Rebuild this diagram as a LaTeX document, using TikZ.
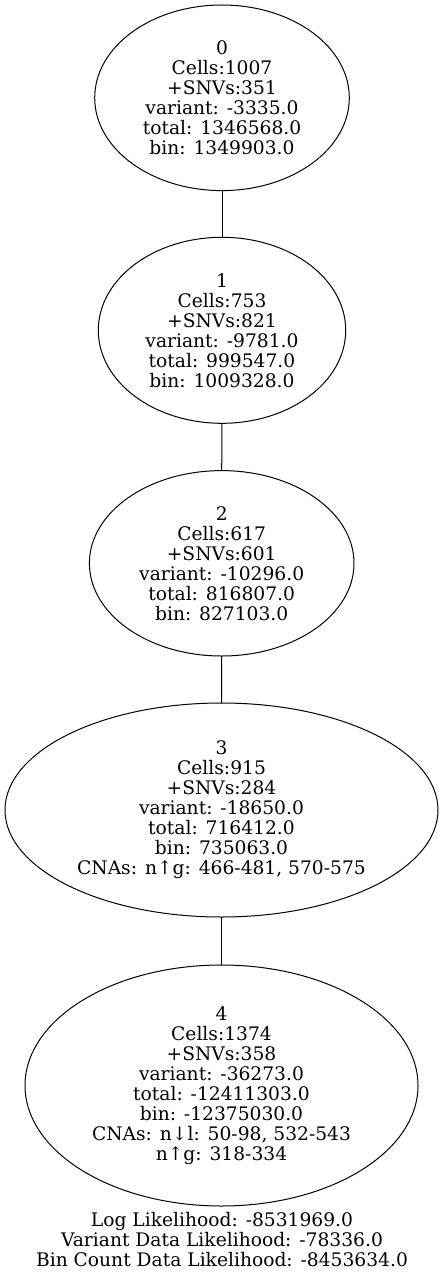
\documentclass[tikz,border=0pt]{standalone}
\usepackage{fontspec}
\setmainfont{DejaVu Serif}
\usetikzlibrary{shapes}

\begin{document}
\begin{tikzpicture}[
			x=0.75pt, y=-0.75pt,
			clone/.style={ellipse,draw,line width=0.75pt,inner sep=0pt,outer sep=0pt,
				align=center,font=\fontsize{14}{15}\selectfont},
			link/.style={line width=0.75pt},
			]
			\useasboundingbox (0,0) rectangle (444,1277);
			\node [clone,minimum width=190.95pt,minimum height=139.2pt] (c0) at (222,97.8) {0\\ Cells:1007\\ +SNVs:351\\ variant: -3335.0\\ total: 1346568.0\\ bin: 1349903.0};
			\node [clone,minimum width=185.55pt,minimum height=139.5pt] (c1) at (222,330.3) {1\\ Cells:753\\ +SNVs:821\\ variant: -9781.0\\ total: 999547.0\\ bin: 1009328.0};
			\node [clone,minimum width=198.45pt,minimum height=139.05pt] (c2) at (221.7,563.3) {2\\ Cells:617\\ +SNVs:601\\ variant: -10296.0\\ total: 816807.0\\ bin: 827103.0};
			\node [clone,minimum width=324.75pt,minimum height=160.5pt] (c3) at (221.5,810) {3\\ Cells:915\\ +SNVs:284\\ variant: -18650.0\\ total: 716412.0\\ bin: 735063.0\\ CNAs: n↑g: 466-481, 570-575};
			\node [clone,minimum width=294.75pt,minimum height=180.75pt] (c4) at (221.5,1085.5) {4\\ Cells:1374\\ +SNVs:358\\ variant: -36273.0\\ total: -12411303.0\\ bin: -12375030.0\\ CNAs: n↓l: 50-98, 532-543\\ n↑g: 318-334};
			\node [align=center,inner sep=0pt,font=\fontsize{14}{15}\selectfont] (lik) at (222,1240) {Log Likelihood: -8531969.0\\ Variant Data Likelihood: -78336.0\\ Bin Count Data Likelihood: -8453634.0};
			\draw [link] (c0.south) -- (c1.north);
			\draw [link] (c1.south) -- (c2.north);
			\draw [link] (c2.south) -- (c3.north);
			\draw [link] (c3.south) -- (c4.north);
		\end{tikzpicture}
\end{document}
